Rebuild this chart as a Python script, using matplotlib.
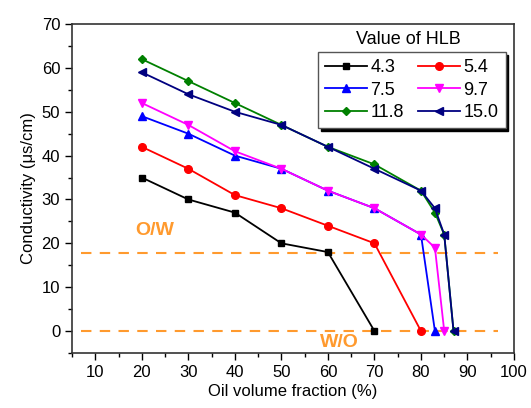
import numpy as np
import matplotlib
matplotlib.use("Agg")
import matplotlib.pyplot as plt
from matplotlib.ticker import MultipleLocator

plt.rcParams['font.family'] = ['Liberation Sans', 'DejaVu Sans']

# data
hlb_labels = ['4.3', '5.4', '7.5', '9.7', '11.8', '15.0']
x_43 = [20, 30, 40, 50, 60, 70]
y_43 = [35, 30, 27, 20, 18, 0]
x_54 = [20, 30, 40, 50, 60, 70, 80]
y_54 = [42, 37, 31, 28, 24, 20, 0]
x_75 = [20, 30, 40, 50, 60, 70, 80, 83]
y_75 = [49, 45, 40, 37, 32, 28, 22, 0]
x_97 = [20, 30, 40, 50, 60, 70, 80, 83, 85]
y_97 = [52, 47, 41, 37, 32, 28, 22, 19, 0]
x_118 = [20, 30, 40, 50, 60, 70, 80, 83, 85, 87]
y_118 = [62, 57, 52, 47, 42, 38, 32, 27, 22, 0]
x_150 = [20, 30, 40, 50, 60, 70, 80, 83, 85, 87]
y_150 = [59, 54, 50, 47, 42, 37, 32, 28, 22, 0]

ow_level = 17.8
wo_level = 0

series = [(x_43, y_43), (x_54, y_54), (x_75, y_75),
          (x_97, y_97), (x_118, y_118), (x_150, y_150)]
colors = ['black', 'red', 'blue', 'magenta', 'green', 'navy']
markers = ['s', 'o', '^', 'v', 'D', '<']
msizes = [4.5, 5.5, 5.5, 5.5, 4.5, 5.5]

fig = plt.figure(figsize=(5.31, 4.08), dpi=100)
ax = fig.add_axes([0.1356, 0.135, 0.968 - 0.1356, 0.941 - 0.135])

orange = '#FF9A2E'
ax.plot([7, 96.5], [ow_level, ow_level], '--', color=orange, lw=1.5, dashes=(5, 4))
ax.plot([7, 96.5], [wo_level, wo_level], '--', color=orange, lw=1.5, dashes=(5, 4))

handles = []
for (xs, ys), c, m, ms, lab in zip(series, colors, markers, msizes, hlb_labels):
    h, = ax.plot(xs, ys, color=c, marker=m, markersize=ms, lw=1.3, label=lab)
    handles.append(h)

ax.text(18.5, 23, 'O/W', color=orange, fontsize=14, fontweight='bold', va='center')
ax.text(58.3, -2.6, 'W/O', color=orange, fontsize=14, fontweight='bold', va='center')

ax.set_xlim(5, 100)
ax.set_ylim(-5, 70)
ax.xaxis.set_minor_locator(MultipleLocator(5))
ax.yaxis.set_major_locator(MultipleLocator(10))
ax.yaxis.set_minor_locator(MultipleLocator(5))
ax.set_xticks(np.arange(10, 101, 10))
ax.tick_params(which='major', direction='out', length=5, width=1, labelsize=12)
ax.tick_params(which='minor', direction='out', length=3, width=1)
for s in ax.spines.values():
    s.set_linewidth(1.2)
    s.set_color('#333333')

ax.set_xlabel('Oil volume fraction (%)', fontsize=12, labelpad=3)
ax.set_ylabel('Conductivity (\u03bcs/cm)', fontsize=12, labelpad=4)

# row-wise order for a 2-column legend
order = [0, 2, 4, 1, 3, 5]
leg = ax.legend(handles=[handles[i] for i in order], ncol=2, loc='upper left',
                bbox_to_anchor=(318 / 531, 1 - 52 / 408), bbox_transform=fig.transFigure,
                fontsize=13, frameon=True, fancybox=False, edgecolor='#555555',
                shadow={'color': 'black', 'alpha': 1.0},
                handlelength=2.3, handletextpad=0.2, columnspacing=0.8,
                labelspacing=0.3, borderpad=0.4, borderaxespad=0)
leg.get_frame().set_linewidth(1.0)
fig.text(408 / 531, 1 - 40 / 408, 'Value of HLB', fontsize=13, ha='center', va='center')

fig.savefig('out.png', dpi=100)
